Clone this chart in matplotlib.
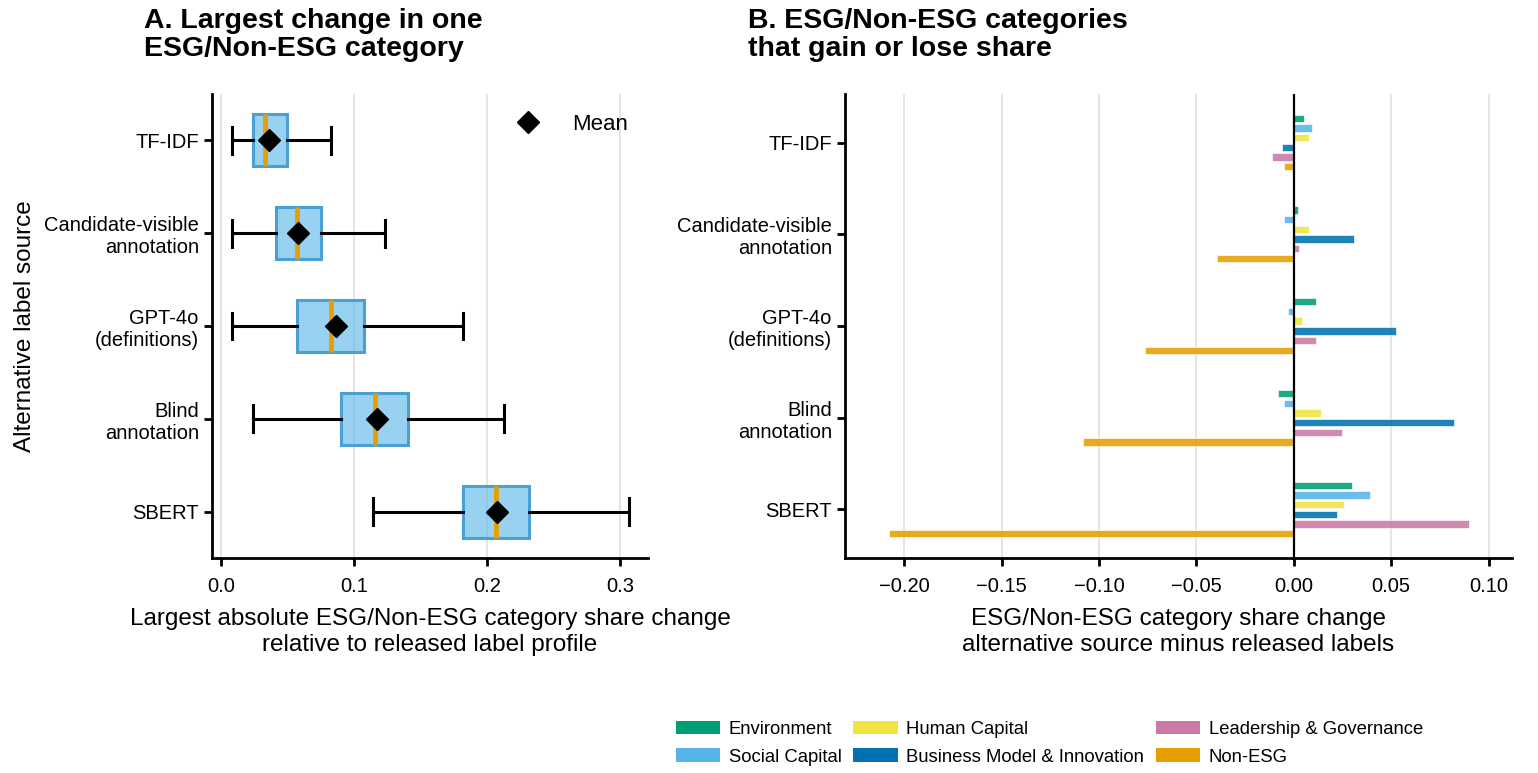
import matplotlib
matplotlib.use("Agg")
import matplotlib.pyplot as plt
from matplotlib.patches import Patch
from matplotlib.lines import Line2D
import numpy as np

plt.rcParams['font.family'] = ['Liberation Sans', 'DejaVu Sans']

# ---------------- data ----------------
sources = ["TF-IDF", "Candidate-visible\nannotation", "GPT-4o\n(definitions)",
           "Blind\nannotation", "SBERT"]

# Panel A: distribution of largest absolute category share change
whis_lo = [0.008, 0.008, 0.008, 0.024, 0.1145]
q1 = [0.0243, 0.041, 0.057, 0.0904, 0.1816]
median = [0.0331, 0.0572, 0.0826, 0.116, 0.2067]
q3 = [0.0497, 0.0748, 0.1077, 0.1409, 0.2318]
whis_hi = [0.0826, 0.123, 0.1818, 0.213, 0.3064]
mean = [0.0364, 0.0577, 0.0866, 0.1175, 0.2077]

# Panel B: category share change, alternative source minus released labels
categories = ["Environment", "Social Capital", "Human Capital",
              "Business Model & Innovation", "Leadership & Governance", "Non-ESG"]
cat_colors = ["#009E73", "#56B4E9", "#F0E442", "#0072B2", "#CC79A7", "#E69F00"]
env = [0.0051, 0.0020, 0.0113, -0.0082, 0.0298]
social = [0.0091, -0.0051, -0.0031, -0.0051, 0.0391]
human = [0.0080, 0.0080, 0.0040, 0.0142, 0.0256]
business = [-0.0060, 0.0309, 0.0524, 0.0824, 0.0224]
leadership = [-0.0113, 0.0029, 0.0113, 0.0249, 0.0898]
non_esg = [-0.0051, -0.0393, -0.0764, -0.1084, -0.2076]
share_change = [env, social, human, business, leadership, non_esg]

xticks_a = [0.0, 0.1, 0.2, 0.3]
xticks_b = [-0.20, -0.15, -0.10, -0.05, 0.00, 0.05, 0.10]

# ---------------- figure ----------------
W, H = 1538, 773
fig = plt.figure(figsize=(W / 100, H / 100), dpi=100)

def px_axes(l, r, t, b):
    return fig.add_axes([l / W, 1 - b / H, (r - l) / W, (b - t) / H])

axA = px_axes(212, 648, 94, 558)
axB = px_axes(845, 1512, 94, 558)

SP_LW = 2.0
grid_c = "#e3e3e3"
TICK_FS = 14.5
LABEL_FS = 17.5

def style(ax):
    for s in ["top", "right"]:
        ax.spines[s].set_visible(False)
    for s in ["left", "bottom"]:
        ax.spines[s].set_linewidth(SP_LW)
        ax.spines[s].set_color("black")
    ax.tick_params(axis="both", width=SP_LW, length=6, labelsize=TICK_FS, color="black")
    ax.tick_params(axis="x", pad=7.5)
    ax.set_axisbelow(True)
    ax.grid(axis="x", color=grid_c, linewidth=1.3)
    ax.grid(axis="y", visible=False)

# ---- Panel A ----
pos = np.arange(len(sources))
stats = []
for i in range(len(sources)):
    stats.append(dict(whislo=whis_lo[i], q1=q1[i], med=median[i], q3=q3[i],
                      whishi=whis_hi[i], mean=mean[i], fliers=[]))
axA.bxp(stats, positions=pos, orientation="horizontal", widths=0.56,
        capwidths=0.29, patch_artist=True, showmeans=True,
        boxprops=dict(facecolor=(0.337, 0.706, 0.914, 0.6), edgecolor="#4a9fd4", linewidth=2.2),
        medianprops=dict(color="#E69F00", linewidth=3.5),
        whiskerprops=dict(color="black", linewidth=2.2),
        capprops=dict(color="black", linewidth=2.2),
        meanprops=dict(marker="D", markerfacecolor="black", markeredgecolor="black",
                       markersize=11))
style(axA)
axA.set_ylim(4.5, -0.5)
axA.set_xlim(-0.0068, 0.321)
axA.set_yticks(pos)
axA.set_yticklabels(sources, fontsize=TICK_FS)
axA.set_xticks(xticks_a)
axA.set_xticklabels([f"{v:.1f}" for v in xticks_a], fontsize=TICK_FS)
axA.set_ylabel("Alternative label source", fontsize=LABEL_FS, labelpad=6)
axA.set_xlabel("Largest absolute ESG/Non-ESG category share change\nrelative to released label profile",
               fontsize=LABEL_FS, labelpad=9)
mean_handle = Line2D([], [], marker="D", color="black", linestyle="none", markersize=11)
axA.legend([mean_handle], ["Mean"], loc="upper right", frameon=False, fontsize=16,
           handletextpad=1.0, bbox_to_anchor=(1.0, 1.0))

# ---- Panel B ----
n_cat = len(categories)
spacing = 0.1055
bar_h = 0.08
for j, (cat, vals) in enumerate(zip(categories, share_change)):
    off = (j - (n_cat - 1) / 2) * spacing
    axB.barh(pos + off, vals, height=bar_h, color=cat_colors[j], alpha=0.88,
             edgecolor="white", linewidth=0.5, label=cat)
axB.axvline(0, color="black", linewidth=1.6, zorder=3)
style(axB)
axB.set_ylim(4.53, -0.53)
axB.set_xlim(-0.2304, 0.112)
axB.set_yticks(pos)
axB.set_yticklabels(sources, fontsize=TICK_FS)
axB.set_xticks(xticks_b)
axB.set_xticklabels([f"{v:.2f}".replace("-", "\u2212") for v in xticks_b], fontsize=TICK_FS)
axB.set_xlabel("ESG/Non-ESG category share change\nalternative source minus released labels",
               fontsize=LABEL_FS, labelpad=9)

# ---- titles ----
fig.text(144 / W, 1 - 8 / H, "A. Largest change in one\nESG/Non-ESG category",
         fontsize=20.5, fontweight="bold", ha="left", va="top", linespacing=1.12)
fig.text(748 / W, 1 - 8 / H, "B. ESG/Non-ESG categories\nthat gain or lose share",
         fontsize=20.5, fontweight="bold", ha="left", va="top", linespacing=1.12)

# ---- legend ----
handles = [Patch(facecolor=c, edgecolor="none") for c in cat_colors]
fig.legend(handles, categories, ncol=3, loc="upper left",
           bbox_to_anchor=(663 / W, 1 - 708 / H), frameon=False, fontsize=13.3,
           handlelength=2.4, handleheight=0.75, handletextpad=0.45,
           columnspacing=0.65, labelspacing=0.55, borderpad=0.2)

fig.savefig("out.png", dpi=100)
